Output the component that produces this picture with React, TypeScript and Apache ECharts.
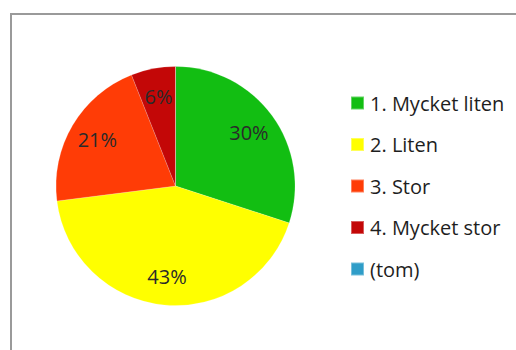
import React, { useEffect, useRef } from "react";
import * as echarts from "echarts";

const categories = ["1. Mycket liten", "2. Liten", "3. Stor", "4. Mycket stor", "(tom)"];
const values = [30, 43, 21, 6, 0];
const colors = ["#12BE12", "#FFFF00", "#FF3C06", "#C30707", "#2F9DC8"];

export default function App() {
  const ref = useRef<HTMLDivElement>(null);
  useEffect(() => {
    if (!ref.current) return;
    const chart = echarts.init(ref.current, null, { renderer: "svg" });
    const data = categories.map((name, i) => ({
      name,
      value: values[i],
      itemStyle: { color: colors[i] },
    }));
    const font = "'Open Sans', 'Noto Sans', sans-serif";
    chart.setOption({
      animation: false,
      backgroundColor: "#ffffff",
      graphic: [
        {
          type: "rect",
          shape: { x: 11, y: 14, width: 620, height: 420 },
          style: { fill: "none", stroke: "#9a9a9a", lineWidth: 2 },
          silent: true,
        },
      ],
      legend: {
        orient: "vertical",
        left: 350,
        top: 92,
        padding: 0,
        itemWidth: 13,
        itemHeight: 13,
        itemGap: 19.5,
        icon: "rect",
        data: categories,
        textStyle: {
          fontFamily: font,
          fontSize: 20,
          color: "#1e1e1e",
          lineHeight: 22,
          padding: [0, 0, 0, 1],
        },
      },
      series: [
        {
          type: "pie",
          center: [175.5, 186],
          radius: [0, 119.5],
          startAngle: 90,
          clockwise: true,
          data,
          label: { show: false },
          labelLine: { show: false },
          itemStyle: { borderColor: "rgba(255,255,255,0.35)", borderWidth: 0.5 },
          silent: true,
        },
        {
          type: "pie",
          center: [175.5, 186],
          radius: [56, 119.5],
          startAngle: 90,
          clockwise: true,
          data: categories.map((name, i) => ({ name, value: values[i] })),
          itemStyle: { color: "rgba(0,0,0,0)" },
          label: {
            show: true,
            position: "inside",
            fontFamily: font,
            fontSize: 20,
            color: "#2a2a2a",
            formatter: (p: any) => (p.value > 0 ? `${Math.round(p.percent)}%` : ""),
          },
          labelLine: { show: false },
          silent: true,
        },
      ],
    });
    return () => chart.dispose();
  }, []);
  return (
    <div
      ref={ref}
      style={{ position: "fixed", left: 0, top: 0, width: 516, height: 350 }}
    />
  );
}
